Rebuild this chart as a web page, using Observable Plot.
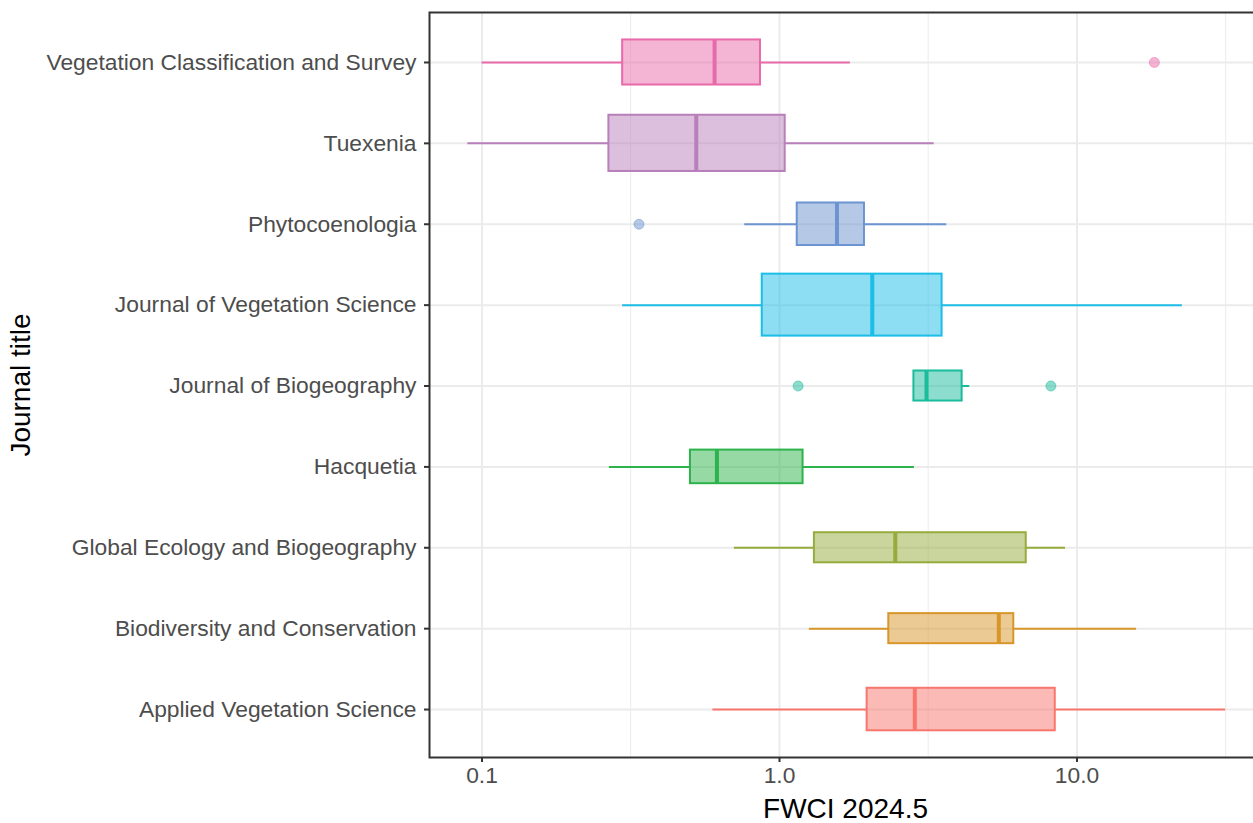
<!DOCTYPE html>
<html>
<head>
<meta charset="utf-8">
<script src="https://cdn.jsdelivr.net/npm/d3@7"></script>
<script src="https://cdn.jsdelivr.net/npm/@observablehq/plot@0.6"></script>
<style>
  html, body { margin: 0; padding: 0; background: #fff; overflow: hidden; }
  #chart svg { max-width: none !important; }
</style>
</head>
<body>
<div id="chart"></div>
<script>
// Categories (bottom to top)
const journals = [
  "Applied Vegetation Science",
  "Biodiversity and Conservation",
  "Global Ecology and Biogeography",
  "Hacquetia",
  "Journal of Biogeography",
  "Journal of Vegetation Science",
  "Phytocoenologia",
  "Tuexenia",
  "Vegetation Classification and Survey"
];
const palette = ["#F8766D", "#D8962A", "#95AB3C", "#2DB34B", "#1ABC9C", "#1CBDE6", "#6C94D0", "#B87FBA", "#E96AAA"];

// Boxplot statistics (FWCI 2024.5)
const whiskerLow  = [0.597, 1.26, 0.705, 0.268, 2.83, 0.297, 0.764, 0.0896, 0.100];
const q1          = [1.97,  2.33, 1.31,  0.502, 2.83, 0.875, 1.147, 0.267,  0.297];
const median      = [2.85,  5.46, 2.45,  0.616, 3.12, 2.05,  1.56,  0.525,  0.605];
const q3          = [8.45,  6.13, 6.75,  1.20,  4.11, 3.52,  1.93,  1.045,  0.863];
const whiskerHigh = [31.6,  15.86, 9.15, 2.84,  4.36, 22.6,  3.65,  3.31,   1.73];
const nPapers     = [8, 4, 4, 5, 4, 17, 8, 14, 9];

// Outliers
const outlierJournal = ["Vegetation Classification and Survey", "Phytocoenologia", "Journal of Biogeography", "Journal of Biogeography"];
const outlierValue   = [18.2, 0.337, 1.155, 8.17];

// Axis ticks
const xTicks = [0.1, 1, 10];
const xMinorTicks = [0.316, 3.16, 31.6];

const maxN = d3.max(nPapers);
const boxes = journals.map((j, i) => {
  const hw = 0.766 * Math.sqrt(nPapers[i] / maxN) / 2;
  return {journal: j, i, lo: whiskerLow[i], q1: q1[i], med: median[i], q3: q3[i], hi: whiskerHigh[i], y1: i - hw, y2: i + hw};
});
const outliers = outlierJournal.map((j, k) => ({journal: j, i: journals.indexOf(j), value: outlierValue[k]}));

const grid = "#EBEBEB";
const plot = Plot.plot({
  width: 1262,
  height: 823,
  marginLeft: 429,
  marginRight: 1,
  marginTop: 12,
  marginBottom: 66,
  style: {fontFamily: "'Liberation Sans', Arial, Helvetica, sans-serif", background: "#fff", maxWidth: "none"},
  x: {type: "log", domain: [0.0666, 41.7], axis: null},
  y: {type: "linear", domain: [-0.593, 8.618], axis: null},
  color: {domain: journals, range: palette},
  marks: [
    Plot.gridX(xMinorTicks, {stroke: grid, strokeOpacity: 1, strokeWidth: 1}),
    Plot.gridX(xTicks, {stroke: grid, strokeOpacity: 1, strokeWidth: 2}),
    Plot.gridY(d3.range(journals.length), {stroke: grid, strokeOpacity: 1, strokeWidth: 2}),
    // whiskers
    Plot.ruleY(boxes, {y: "i", x1: "lo", x2: "q1", stroke: "journal", strokeWidth: 2}),
    Plot.ruleY(boxes, {y: "i", x1: "q3", x2: "hi", stroke: "journal", strokeWidth: 2}),
    // boxes
    Plot.rect(boxes, {x1: "q1", x2: "q3", y1: "y1", y2: "y2", fill: "journal", fillOpacity: 0.5, stroke: "journal", strokeWidth: 2}),
    // medians
    Plot.ruleX(boxes, {x: "med", y1: "y1", y2: "y2", stroke: "journal", strokeWidth: 4}),
    // outliers
    Plot.dot(outliers, {x: "value", y: "i", r: 5, fill: "journal", fillOpacity: 0.5, stroke: "journal", strokeOpacity: 0.5, strokeWidth: 1}),
    Plot.frame({stroke: "#333333", strokeWidth: 2}),
    Plot.axisX(xTicks, {anchor: "bottom", tickFormat: d3.format(".1f"), tickSize: 5, tickPadding: 4, fontSize: 22.8, fill: "#4D4D4D", stroke: "#333333", strokeWidth: 2, label: null}),
    Plot.axisY(d3.range(journals.length), {anchor: "left", tickFormat: i => journals[i], tickSize: 5, tickPadding: 8, fontSize: 22.8, fill: "#4D4D4D", stroke: "#333333", strokeWidth: 2, label: null}),
    Plot.text(["FWCI 2024.5"], {frameAnchor: "bottom", dy: 60, fontSize: 28, fill: "#000"}),
    Plot.text(["Journal title"], {frameAnchor: "left", dx: -408, rotate: -90, textAnchor: "middle", lineAnchor: "middle", fontSize: 28, fill: "#000"})
  ]
});
document.getElementById("chart").appendChild(plot);
</script>
</body>
</html>
